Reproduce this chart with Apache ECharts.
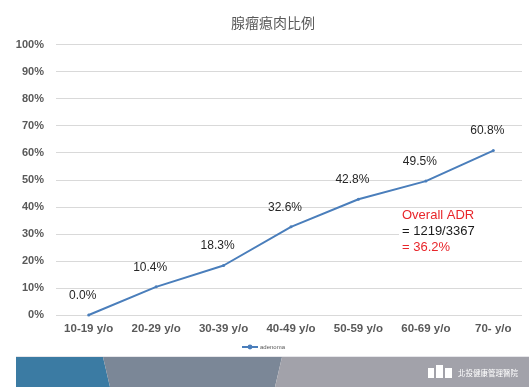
<!DOCTYPE html>
<html><head><meta charset="utf-8">
<script src="https://cdn.jsdelivr.net/npm/echarts@6/dist/echarts.min.js"></script>
<style>html,body{margin:0;padding:0;background:#fff}#c{width:529px;height:387px}</style>
</head><body><div id="c"></div>
<script>
var title = '腺瘤瘜肉比例';
var categories = ['10-19 y/o','20-29 y/o','30-39 y/o','40-49 y/o','50-59 y/o','60-69 y/o','70- y/o'];
var seriesName = 'adenoma';
var adenoma = [0.0, 10.4, 18.3, 32.6, 42.8, 49.5, 60.8];
var yTicks = [0,10,20,30,40,50,60,70,80,90,100];
var noteLines = ['Overall ADR', '= 1219/3367', '= 36.2%'];
var logoText = '北投健康管理醫院';

var chart = echarts.init(document.getElementById('c'), null, {renderer:'canvas'});
var lat = '"Liberation Sans", Arial, sans-serif';
chart.setOption({
  animation:false,
  backgroundColor:'#fff',
  title:{text:title,left:226,top:11,textStyle:{fontFamily:'"Noto Sans CJK TC",sans-serif',fontSize:14,fontWeight:'normal',color:'#595959'}},
  legend:{data:[seriesName],left:236,top:339,itemWidth:16,itemHeight:6,itemGap:2,
    textStyle:{fontSize:6,color:'#595959',fontFamily:lat,padding:[0,0,0,-3]}},
  grid:[{left:56,right:7,top:44.5,bottom:72},{left:55,right:2,top:44.5,bottom:72}],
  xAxis:[
    {type:'category',gridIndex:0,data:categories,show:false},
    {type:'category',gridIndex:1,data:categories,boundaryGap:true,
     axisLine:{show:false},axisTick:{show:false},
     axisLabel:{margin:8,fontSize:11.5,fontWeight:'bold',color:'#595959',fontFamily:lat}}
  ],
  yAxis:[
    {type:'value',gridIndex:0,min:0,max:100,interval:10,
     axisLine:{show:false},axisTick:{show:false},
     splitLine:{lineStyle:{color:'#d9d9d9',width:1}},
     axisLabel:{margin:12,fontSize:11,fontWeight:'bold',color:'#595959',fontFamily:lat,
       formatter:function(v){return v+'%';}}},
    {type:'value',gridIndex:1,min:0,max:100,interval:10,show:false}
  ],
  series:[{
    name:seriesName,type:'line',xAxisIndex:1,yAxisIndex:1,data:adenoma,
    symbol:'circle',symbolSize:3,
    lineStyle:{color:'#4a7ebb',width:2},itemStyle:{color:'#4a7ebb'},
    label:{show:true,position:'top',distance:12,offset:[-6,0],fontSize:12,color:'#262626',fontFamily:lat,
      formatter:function(p){return p.value.toFixed(1)+'%';}}
  }],
  graphic:[
    {type:'rect',z:100,shape:{x:399,y:209,width:123,height:47},style:{fill:'#ffffff'}},
    {type:'text',z:101,left:402,top:209,style:{text:noteLines[0],fill:'#e8262b',font:'13px '+lat}},
    {type:'text',z:101,left:402,top:225,style:{text:noteLines[1],fill:'#1a1a1a',font:'13px '+lat}},
    {type:'text',z:101,left:402,top:241,style:{text:noteLines[2],fill:'#e8262b',font:'13px '+lat}},
    {type:'rect',z:100,shape:{x:16,y:356,width:513,height:1},style:{fill:'#e6e6ea'}},
    {type:'polygon',z:100,shape:{points:[[16,357],[103,357],[110,387],[16,387]]},style:{fill:'#3b7ba3'}},
    {type:'polygon',z:100,shape:{points:[[103,357],[282,357],[275,387],[110,387]]},style:{fill:'#7b8797'}},
    {type:'polygon',z:100,shape:{points:[[282,357],[529,357],[529,387],[275,387]]},style:{fill:'#a2a2aa'}},
    {type:'rect',z:101,shape:{x:428,y:368,width:6,height:10},style:{fill:'#ffffff'}},
    {type:'rect',z:101,shape:{x:436,y:365,width:7,height:13},style:{fill:'#ffffff'}},
    {type:'rect',z:101,shape:{x:445,y:368,width:7,height:10},style:{fill:'#ffffff'}},
    {type:'text',z:101,left:458,top:369,style:{text:logoText,fill:'#ffffff',font:'7.5px "Noto Sans CJK TC",sans-serif'}}
  ]
});
</script></body></html>
